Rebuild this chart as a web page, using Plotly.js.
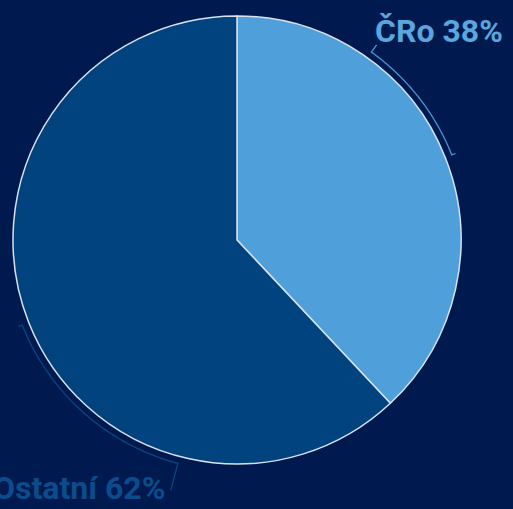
<!DOCTYPE html>
<html><head><meta charset="utf-8">
<script src="https://cdn.plot.ly/plotly-3.0.1.min.js"></script>
<style>html,body{margin:0;padding:0;background:#001a4f;}#chart{width:513px;height:509px;}</style>
</head><body><div id="chart"></div>
<script>
var labels = ["ČRo", "Ostatní"];
var values = [38, 62];
var sliceColors = ["#4fa0da", "#00437f"];
var labelColors = ["#5aa6de", "#0b4c8c"];
var leaderColors = ["#4a94cf", "#0a4584"];

var W = 513, H = 509;
var cx = 237, cy = 240, R = 224;
var arcR = R + 7;
var leadLen = [9, 28];

function px2paper(x, y) { return [x / W, 1 - y / H]; }
function pt(angDeg, r) {
  var a = angDeg * Math.PI / 180;
  return px2paper(cx + r * Math.sin(a), cy - r * Math.cos(a));
}

var total = values.reduce(function(s, v){ return s + v; }, 0);
var shapes = [], annotations = [];
var start = 0;
values.forEach(function(v, i) {
  var span = v / total * 360;
  var aMid = start + span / 2;
  var aQ = start + span * 0.26;
  var p0 = pt(aMid, arcR + 4), p1 = pt(aMid, arcR);
  var path = "M" + p0[0] + "," + p0[1] + " L" + p1[0] + "," + p1[1];
  var steps = 40;
  for (var k = 1; k <= steps; k++) {
    var a = aMid + (aQ - aMid) * k / steps;
    var p = pt(a, arcR);
    path += " L" + p[0] + "," + p[1];
  }
  var pe = pt(aQ, arcR + leadLen[i]);
  path += " L" + pe[0] + "," + pe[1];
  shapes.push({type: "path", xref: "paper", yref: "paper", path: path,
    line: {color: leaderColors[i], width: 1.3}});
  var right = Math.sin(aQ * Math.PI / 180) >= 0;
  annotations.push({
    xref: "paper", yref: "paper",
    x: pe[0] - 4 / W,
    y: right ? pe[1] - 7 / H : pe[1] + 23 / H,
    xanchor: right ? "left" : "right", yanchor: right ? "bottom" : "top",
    showarrow: false,
    text: "<b>" + labels[i] + " " + Math.round(v / total * 100) + "%</b>",
    font: {family: "Roboto", size: 32, color: labelColors[i]}
  });
  start += span;
});

var d0 = px2paper(cx - R, cy + R), d1 = px2paper(cx + R, cy - R);
var trace = {
  type: "pie", labels: labels, values: values, sort: false,
  direction: "clockwise", rotation: 0, textinfo: "none", hoverinfo: "none",
  marker: {colors: sliceColors, line: {color: "#d8e2ee", width: 1.5}},
  domain: {x: [d0[0], d1[0]], y: [d0[1], d1[1]]}
};
var layout = {
  width: W, height: H, margin: {l: 0, r: 0, t: 0, b: 0},
  paper_bgcolor: "#001a4f", plot_bgcolor: "#001a4f", showlegend: false,
  shapes: shapes, annotations: annotations
};
Plotly.newPlot("chart", [trace], layout, {displayModeBar: false, staticPlot: true});
</script></body></html>
